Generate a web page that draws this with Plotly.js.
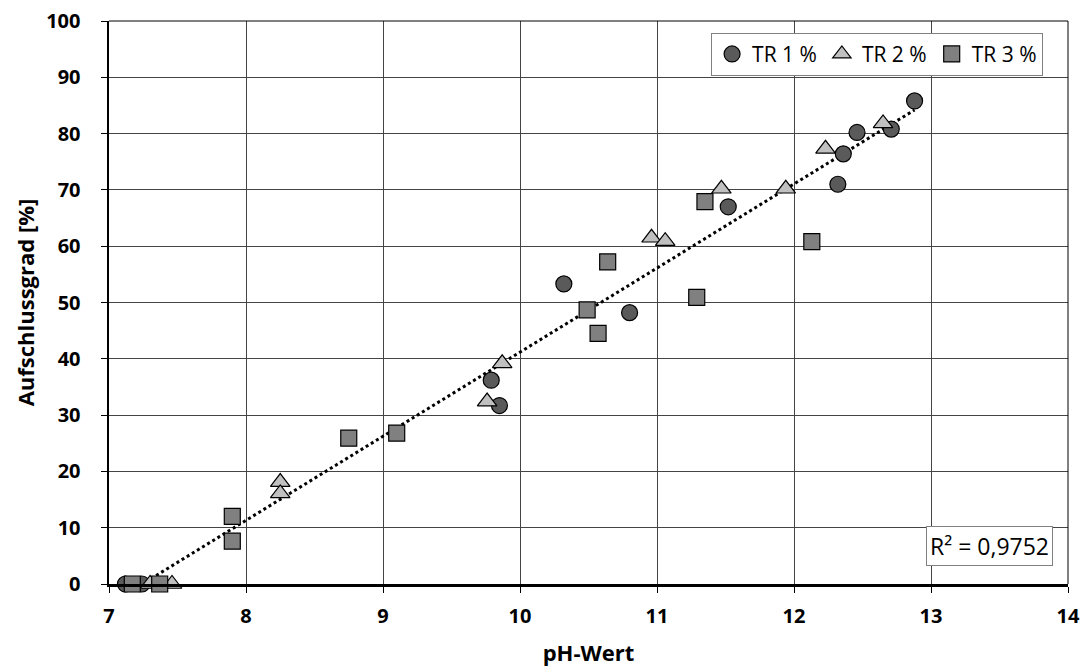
<!DOCTYPE html>
<html>
<head>
<meta charset="utf-8">
<script src="https://cdn.plot.ly/plotly-3.0.1.min.js"></script>
<style>html,body{margin:0;padding:0;background:#fff;}#chart{width:1086px;height:668px;}</style>
</head>
<body>
<div id="chart"></div>
<script>
// TR 1 % (circles)
const tr1X = [7.12, 7.24, 9.79, 9.85, 10.32, 10.80, 11.52, 12.32, 12.36, 12.46, 12.71, 12.88];
const tr1Y = [0, 0, 36.2, 31.7, 53.3, 48.2, 67.0, 71.0, 76.4, 80.2, 80.8, 85.8];
// TR 2 % (triangles)
const tr2X = [7.30, 7.46, 8.25, 8.25, 9.76, 9.87, 10.96, 11.06, 11.47, 11.94, 12.23, 12.65];
const tr2Y = [0, 0, 18.1, 16.1, 32.4, 39.2, 61.5, 60.9, 70.2, 70.2, 77.3, 81.8];
// TR 3 % (squares)
const tr3X = [7.17, 7.37, 7.90, 7.90, 8.75, 9.10, 10.49, 10.57, 10.64, 11.29, 11.35, 12.13];
const tr3Y = [0, 0, 12.0, 7.6, 25.9, 26.8, 48.7, 44.5, 57.2, 50.9, 67.9, 60.8];
const seriesNames = ["TR 1 %", "TR 2 %", "TR 3 %"];
const xTicks = [7, 8, 9, 10, 11, 12, 13, 14];
const yTicks = [0, 10, 20, 30, 40, 50, 60, 70, 80, 90, 100];
const rSquaredText = "R² = 0,9752";

// linear trendline through all points
const allX = tr1X.concat(tr2X, tr3X);
const allY = tr1Y.concat(tr2Y, tr3Y);
const n = allX.length;
const mx = allX.reduce((a, b) => a + b, 0) / n;
const my = allY.reduce((a, b) => a + b, 0) / n;
let sxy = 0, sxx = 0;
for (let i = 0; i < n; i++) { sxy += (allX[i] - mx) * (allY[i] - my); sxx += (allX[i] - mx) ** 2; }
const slope = sxy / sxx;
const intercept = my - slope * mx;
const xMin = Math.min(...allX), xMax = Math.max(...allX);
const lineX = [], lineY = [];
for (let k = 0; k <= 100; k++) {
  const x = xMin + (xMax - xMin) * k / 100;
  lineX.push(x); lineY.push(intercept + slope * x);
}

const font = "'Open Sans', 'DejaVu Sans', sans-serif";
const traces = [
  {x: lineX, y: lineY, mode: 'lines', line: {color: '#000', width: 3, dash: 'dot'}, showlegend: false, hoverinfo: 'skip'},
  {x: tr1X, y: tr1Y, name: seriesNames[0], mode: 'markers', type: 'scatter',
   marker: {symbol: 'circle', size: 16, color: '#5a5a5a', line: {color: '#000', width: 1.2}}, cliponaxis: false},
  {x: tr2X, y: tr2Y, name: seriesNames[1], mode: 'markers', type: 'scatter',
   marker: {symbol: 'triangle-up', size: 17, color: '#c0c0c0', line: {color: '#000', width: 1.2}}, cliponaxis: false},
  {x: tr3X, y: tr3Y, name: seriesNames[2], mode: 'markers', type: 'scatter',
   marker: {symbol: 'square', size: 16, color: '#808080', line: {color: '#000', width: 1.2}}, cliponaxis: false}
];

const layout = {
  width: 1086, height: 668,
  margin: {l: 109, r: 18, t: 21, b: 84},
  paper_bgcolor: '#fff', plot_bgcolor: '#fff',
  font: {family: font, color: '#000'},
  xaxis: {
    range: [7, 14], tickvals: xTicks, ticktext: xTicks.map(String),
    showgrid: true, gridcolor: '#444', gridwidth: 1,
    showline: true, linecolor: '#000', linewidth: 2.5, mirror: false,
    ticks: 'outside', ticklen: 6, tickcolor: '#000', tickwidth: 1,
    zeroline: false, ticklabelstandoff: 6,
    tickfont: {size: 20, family: font, weight: 'bold'},
    title: {text: '<b>pH-Wert</b>', font: {size: 22, family: font}, standoff: 18}
  },
  yaxis: {
    range: [0, 100], tickvals: yTicks, ticktext: yTicks.map(String),
    showgrid: true, gridcolor: '#444', gridwidth: 1,
    showline: true, linecolor: '#000', linewidth: 2.5,
    ticks: 'outside', ticklen: 6, tickcolor: '#000', tickwidth: 1,
    zeroline: false, ticklabelstandoff: 16,
    tickfont: {size: 20, family: font, weight: 'bold'},
    title: {text: '<b>Aufschlussgrad [%]</b>', font: {size: 22, family: font}, standoff: 6}
  },
  showlegend: true,
  legend: {
    orientation: 'h', x: 0.974, xanchor: 'right', y: 0.979, yanchor: 'top',
    bgcolor: '#fff', bordercolor: '#808080', borderwidth: 1,
    font: {size: 21, family: font}, itemwidth: 30, tracegroupgap: 0
  },
  shapes: [
    {type: 'line', xref: 'paper', yref: 'paper', x0: 0, x1: 1, y0: 1, y1: 1, line: {color: '#000', width: 1}},
    {type: 'line', xref: 'paper', yref: 'paper', x0: 1, x1: 1, y0: 0, y1: 1, line: {color: '#000', width: 1}}
  ],
  annotations: [
    {xref: 'paper', yref: 'paper', x: 0.984, y: 0.032, xanchor: 'right', yanchor: 'bottom',
     text: rSquaredText, showarrow: false, font: {size: 23, family: font},
     bgcolor: '#fff', bordercolor: '#808080', borderwidth: 1, borderpad: 3}
  ]
};

Plotly.newPlot('chart', traces, layout, {displayModeBar: false, staticPlot: true});
</script>
</body>
</html>
